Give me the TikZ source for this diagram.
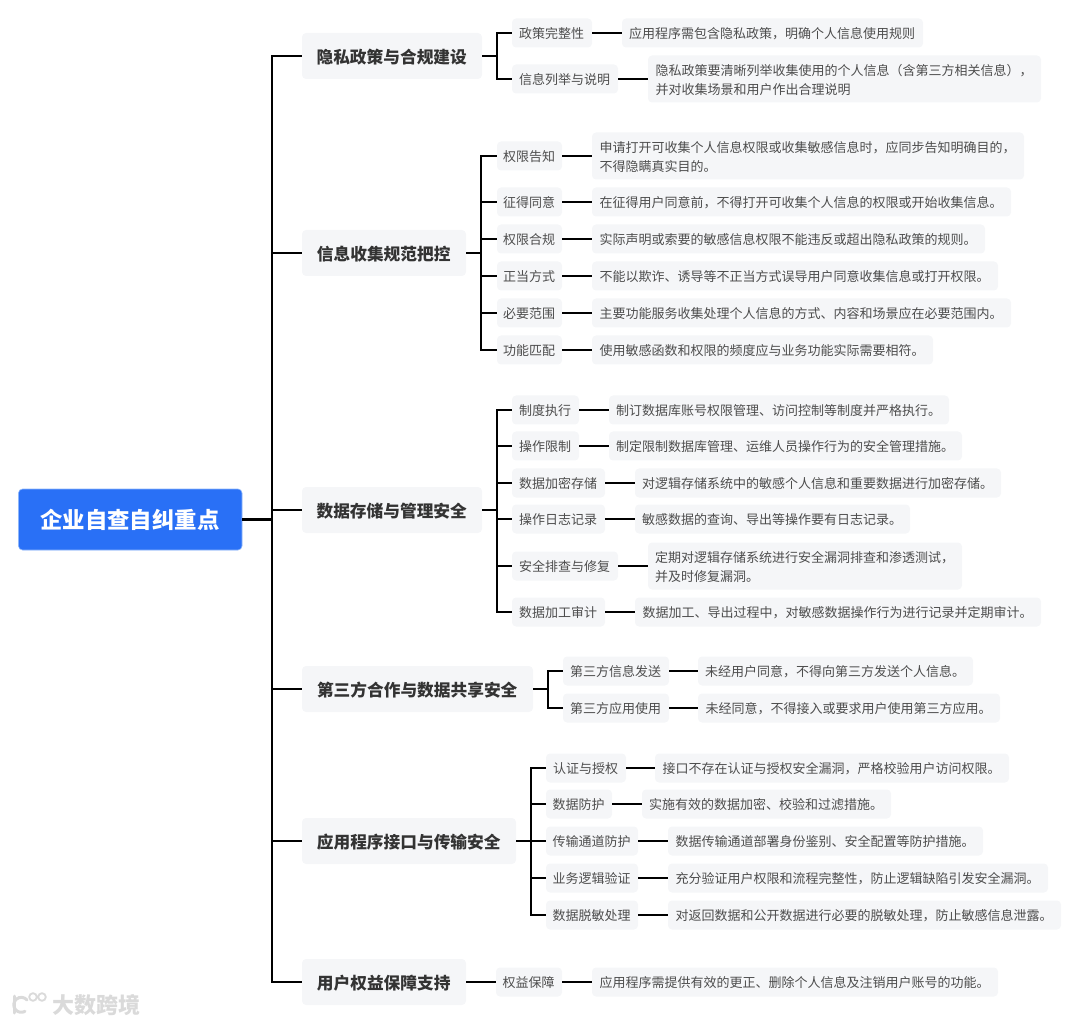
\documentclass[tikz,border=0pt]{standalone}
\usepackage{fontspec}
\setmainfont{Noto Sans CJK SC}
\definecolor{boxfill}{HTML}{F5F6F8}
\definecolor{rootblue}{HTML}{2970F6}
\definecolor{rootedge}{HTML}{8DB6FA}
\definecolor{txtA}{HTML}{333333}
\definecolor{txtB}{HTML}{4D4D4D}
\definecolor{wm}{HTML}{DADADA}
\tikzset{
  rootbox/.style={fill=rootblue,draw=rootedge,line width=.6pt,rounded corners=4pt,inner sep=0pt,minimum height=61pt},
  roottext/.style={text=white,inner sep=0pt,font=\fontsize{22.4}{26}\selectfont\bfseries},
  lonebox/.style={fill=boxfill,rounded corners=4pt,inner sep=0pt,minimum height=46pt},
  lonetext/.style={text=txtA,inner sep=0pt,font=\fontsize{16.7}{20}\selectfont\bfseries},
  ltwobox/.style={fill=boxfill,rounded corners=4pt,inner sep=0pt,minimum height=29pt},
  ltwotext/.style={text=txtB,inner sep=0pt,font=\fontsize{13}{18.5}\selectfont},
  lthreebox/.style={ltwobox},
  lthreetext/.style={ltwotext,align=left},
  tallbox/.style={ltwobox,minimum height=47pt},
  talltext/.style={lthreetext},
  conn/.style={draw=black,line width=2pt},
  wmtext/.style={text=wm,inner sep=0pt,font=\fontsize{22}{24}\selectfont\bfseries}
}
\newcommand{\bx}[7][-0.9]{% [text shift], kind, name, x0, x1, y, text
  \node[#2box,anchor=center,minimum width=#5pt-#4pt] (#3) at ({(#4+#5)/2},#6) {};
  \node[#2text,anchor=center] (#3-label) at ({(#4+#5)/2-0.3},#6-#1) {#7};}
\begin{document}
\begin{tikzpicture}[x=1pt,y=-1pt]
\useasboundingbox (0,0) rectangle (1080,1024);
\bx[0]{root}{root}{18.5}{242}{519.5}{企业自查自纠重点}
\coordinate (trunk) at (272,519.5);
% level 1
\bx{lone}{a}{302}{482}{56}{隐私政策与合规建设}
\bx{lone}{b}{302}{466}{253}{信息收集规范把控}
\bx{lone}{c}{302}{482}{510}{数据存储与管理安全}
\bx{lone}{d}{302}{533}{689}{第三方合作与数据共享安全}
\bx{lone}{e}{302}{516}{841}{应用程序接口与传输安全}
\bx{lone}{f}{302}{466}{982}{用户权益保障支持}
% group a
\bx{ltwo}{a1}{512}{592}{33}{政策完整性}
\bx{lthree}{a1t}{622}{923}{33}{应用程序需包含隐私政策，明确个人信息使用规则}
\bx{ltwo}{a2}{512}{618}{79}{信息列举与说明}
\bx{tall}{a2t}{648}{1041}{79}{隐私政策要清晰列举收集使用的个人信息（含第三方相关信息），\\并对收集场景和用户作出合理说明}
% group b
\bx{ltwo}{b1}{497}{562}{156}{权限告知}
\bx{tall}{b1t}{592}{1024}{156}{申请打开可收集个人信息权限或收集敏感信息时，应同步告知明确目的，\\不得隐瞒真实目的。}
\bx{ltwo}{b2}{497}{562}{202}{征得同意}
\bx{lthree}{b2t}{592}{1011}{202}{在征得用户同意前，不得打开可收集个人信息的权限或开始收集信息。}
\bx{ltwo}{b3}{497}{562}{239}{权限合规}
\bx{lthree}{b3t}{592}{985}{239}{实际声明或索要的敏感信息权限不能违反或超出隐私政策的规则。}
\bx{ltwo}{b4}{497}{562}{276}{正当方式}
\bx{lthree}{b4t}{592}{998}{276}{不能以欺诈、诱导等不正当方式误导用户同意收集信息或打开权限。}
\bx{ltwo}{b5}{497}{562}{313}{必要范围}
\bx{lthree}{b5t}{592}{1011}{313}{主要功能服务收集处理个人信息的方式、内容和场景应在必要范围内。}
\bx{ltwo}{b6}{497}{562}{350}{功能匹配}
\bx{lthree}{b6t}{592}{933}{350}{使用敏感函数和权限的频度应与业务功能实际需要相符。}
% group c
\bx{ltwo}{c1}{512}{579}{410}{制度执行}
\bx{lthree}{c1t}{609}{949}{410}{制订数据库账号权限管理、访问控制等制度并严格执行。}
\bx{ltwo}{c2}{512}{579}{446}{操作限制}
\bx{lthree}{c2t}{609}{962}{446}{制定限制数据库管理、运维人员操作行为的安全管理措施。}
\bx{ltwo}{c3}{512}{605}{483}{数据加密存储}
\bx{lthree}{c3t}{635}{1001}{483}{对逻辑存储系统中的敏感个人信息和重要数据进行加密存储。}
\bx{ltwo}{c4}{512}{605}{519}{操作日志记录}
\bx{lthree}{c4t}{635}{910}{519}{敏感数据的查询、导出等操作要有日志记录。}
\bx{ltwo}{c5}{512}{618}{566}{安全排查与修复}
\bx{tall}{c5t}{648}{962}{566}{定期对逻辑存储系统进行安全漏洞排查和渗透测试，\\并及时修复漏洞。}
\bx{ltwo}{c6}{512}{605}{612}{数据加工审计}
\bx{lthree}{c6t}{635}{1041}{612}{数据加工、导出过程中，对敏感数据操作行为进行记录并定期审计。}
% group d
\bx{ltwo}{d1}{563}{669}{671}{第三方信息发送}
\bx{lthree}{d1t}{698}{973}{671}{未经用户同意，不得向第三方发送个人信息。}
\bx{ltwo}{d2}{563}{669}{708}{第三方应用使用}
\bx{lthree}{d2t}{698}{1000}{708}{未经同意，不得接入或要求用户使用第三方应用。}
% group e
\bx{ltwo}{e1}{546}{626}{768}{认证与授权}
\bx{lthree}{e1t}{655}{1009}{768}{接口不存在认证与授权安全漏洞，严格校验用户访问权限。}
\bx{ltwo}{e2}{546}{612}{804}{数据防护}
\bx{lthree}{e2t}{642}{891}{804}{实施有效的数据加密、校验和过滤措施。}
\bx{ltwo}{e3}{546}{638}{841}{传输通道防护}
\bx{lthree}{e3t}{668}{983}{841}{数据传输通道部署身份鉴别、安全配置等防护措施。}
\bx{ltwo}{e4}{546}{638}{878}{业务逻辑验证}
\bx{lthree}{e4t}{668}{1048}{878}{充分验证用户权限和流程完整性，防止逻辑缺陷引发安全漏洞。}
\bx{ltwo}{e5}{546}{638}{915}{数据脱敏处理}
\bx{lthree}{e5t}{668}{1061}{915}{对返回数据和公开数据进行必要的脱敏处理，防止敏感信息泄露。}
% group f
\bx{ltwo}{f1}{496}{562}{982}{权益保障}
\bx{lthree}{f1t}{592}{998}{982}{应用程序需提供有效的更正、删除个人信息及注销用户账号的功能。}
% connectors: root to trunk
\draw[conn,line width=3pt] (root.east) -- (trunk);
\foreach \n in {a,b,c,d,e,f} \draw[conn] (trunk) |- (\n.west);
% L1 to L2
\foreach \p/\k in {a/a1,a/a2,b/b1,b/b2,b/b3,b/b4,b/b5,b/b6,c/c1,c/c2,c/c3,c/c4,c/c5,c/c6,d/d1,d/d2,e/e1,e/e2,e/e3,e/e4,e/e5}
  \draw[conn] (\p.east) -- ++(15,0) |- (\k.west);
\draw[conn] (f.east) -- (f1.west);
% L2 to L3
\foreach \k in {a1,a2,b1,b2,b3,b4,b5,b6,c1,c2,c3,c4,c5,c6,d1,d2,e1,e2,e3,e4,e5,f1}
  \draw[conn] (\k.east) -- (\k t.west);
% watermark
\node[wmtext,anchor=west] (wmark) at (52,1005) {大数跨境};
\draw[wm,line width=3pt,line cap=round] (14,996) -- (14,1013);
\draw[wm,line width=3pt,line cap=round] (27,1000) arc[start angle=40,end angle=300,radius=7.5pt];
\draw[wm,line width=1.8pt] (33,997) circle[radius=3.8pt] (42,997) circle[radius=3.8pt];
\end{tikzpicture}
\end{document}
